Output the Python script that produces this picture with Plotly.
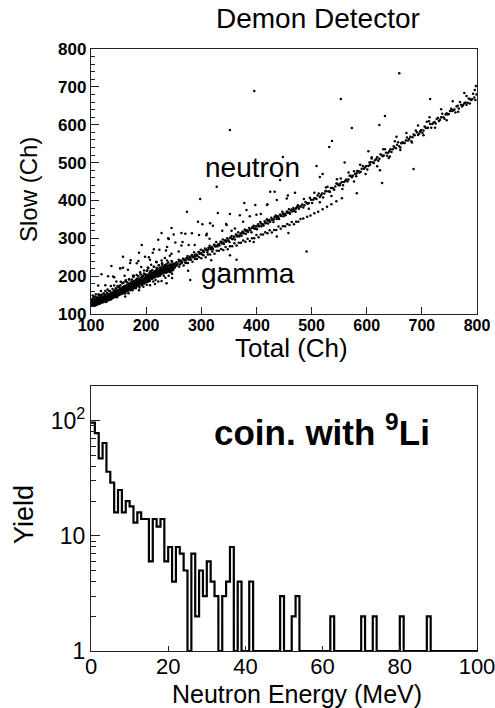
import plotly.graph_objects as go
import numpy as np

# ---------------- top panel data: (Total, Slow) in channels ----------------
core_pts = [
    (100,122),(101,131),(102,127),(102,138),(103,124),(103,134),(104,129),(104,142),(105,126),(105,133),
    (106,137),(106,121),(107,130),(107,146),(108,127),(108,135),(109,140),(109,124),(110,132),(110,137),
    (111,128),(111,144),(112,134),(112,125),(113,139),(113,131),(114,136),(114,149),(115,129),(115,142),
    (116,134),(116,127),(117,139),(117,145),(118,132),(118,137),(119,130),(119,151),(120,141),(120,135),
    (121,138),(121,146),(122,131),(122,143),(123,140),(123,153),(124,136),(124,147),(125,142),(125,133),
    (126,139),(126,150),(127,144),(127,137),(128,148),(128,141),(129,134),(129,156),(130,145),(130,139),
    (131,150),(131,142),(132,137),(132,147),(133,153),(133,144),(134,140),(134,161),(135,149),(135,143),
    (136,138),(136,152),(137,146),(137,157),(138,141),(138,150),(139,155),(139,145),(140,148),(140,142),
    (141,152),(141,160),(142,146),(142,156),(143,163),(143,150),(144,145),(144,158),(145,154),(145,168),
    (146,149),(146,161),(147,156),(147,151),(148,164),(148,147),(149,159),(149,172),(150,153),(150,162),
    (151,157),(151,150),(152,166),(152,160),(153,155),(153,176),(154,162),(154,152),(155,158),(155,168),
    (156,164),(156,156),(157,160),(157,181),(158,154),(158,167),(159,163),(159,171),(160,158),(160,165),
    (161,168),(161,161),(162,174),(162,157),(163,165),(163,186),(164,170),(164,162),(165,167),(165,177),
    (166,160),(166,172),(167,169),(167,164),(168,179),(168,173),(169,166),(169,192),(170,175),(170,168),
    (171,163),(171,181),(172,171),(172,177),(173,167),(173,186),(174,174),(174,179),(175,170),(175,165),
    (176,182),(176,176),(177,172),(177,198),(178,178),(178,169),(179,185),(179,175),(180,172),(180,181),
    (181,177),(181,190),(182,184),(182,171),(183,179),(183,203),(184,187),(184,175),(185,182),(185,193),
    (186,178),(186,188),(187,185),(187,174),(188,191),(188,181),(189,186),(189,210),(190,180),(190,195),
    (191,188),(191,183),(192,198),(192,177),(193,190),(193,185),(194,182),(194,201),(195,193),(195,187),
    (196,180),(196,207),(197,191),(197,196),(198,186),(198,203),(199,194),(199,183),(200,199),(200,189),
    (201,192),(201,214),(202,198),(202,186),(203,204),(203,194),(204,190),(204,221),(205,201),(205,197),
    (206,193),(206,208),(207,203),(207,188),(208,199),(208,212),(209,195),(209,230),(210,206),(210,201),
    (211,193),(211,216),(212,204),(212,198),(213,210),(213,196),(214,207),(214,225),(215,201),(215,212),
    (216,197),(216,206),(217,214),(217,203),(218,200),(218,238),(219,209),(219,217),(220,205),(220,211),
    (221,199),(221,220),(222,208),(222,214),(223,204),(223,229),(224,212),(224,201),(225,217),(225,208),
    (226,211),(226,222),(227,205),(227,216),(228,213),(228,241),(229,219),(229,209),(230,215),(230,226),
    (231,207),(231,221),(232,217),(232,212),(233,224),(233,210),(234,219),(234,248),(235,214),(235,228),
    (236,221),(236,209),(237,217),(237,232),(238,224),(238,214),(239,211),(239,227),(240,219),(240,236),
    (241,222),(241,215),(242,229),(242,212),(243,219),(243,254),(244,225),(244,216),(245,231),(245,221),
    (246,214),(246,227),(247,223),(247,238),(248,218),(248,230),(249,225),(249,216),(250,233),(250,221),
]

core_spread = [
    (100,136),(102,122),(103,149),(105,132),(106,145),(108,123),(109,152),(111,141),(112,133),(114,152),
    (115,130),(117,149),(118,161),(120,143),(121,135),(123,155),(124,141),(126,161),(127,132),(129,155),
    (130,165),(132,143),(133,161),(135,139),(136,174),(138,152),(139,166),(141,144),(142,175),(144,151),
    (145,160),(147,144),(148,174),(150,158),(151,171),(153,153),(154,185),(156,170),(157,157),(159,183),
    (160,173),(162,154),(163,189),(165,167),(166,184),(168,155),(169,191),(171,178),(172,167),(174,191),
    (175,163),(177,187),(178,201),(180,179),(181,168),(183,193),(184,176),(186,200),(187,163),(189,192),
    (190,205),(192,176),(193,199),(195,172),(196,215),(198,188),(199,205),(201,177),(202,215),(204,185),
    (205,196),(207,176),(208,213),(210,193),(211,208),(213,186),(214,225),(216,207),(217,190),(219,222),
    (220,209),(222,186),(223,229),(225,201),(226,222),(228,187),(229,231),(231,214),(232,201),(234,229),
    (235,196),(237,224),(238,241),(240,215),(241,201),(243,231),(244,210),(246,240),(247,195),(249,230),
]

speckle = [
    (113,175),(119,205),(126,176),(131,200),(137,227),(142,197),(146,186),(153,220),(158,251),(161,201),
    (167,217),(172,242),(176,201),(183,234),(187,262),(191,224),(198,251),(203,223),(207,243),(214,271),
    (219,237),(224,270),(229,234),(236,268),(241,298),(246,259),(253,289),(259,265),(264,281),(271,312),
    (277,282),(283,313),(288,282),(296,309),(302,337),(309,308),(315,299),(321,333),(330,367),(338,320),
    (345,338),(352,364),(361,326),(370,361),(378,393),(388,358),(398,388),(408,364),(420,390),(433,423),
    (135,141),(162,146),(188,170),(216,179),(247,206),(276,214),(318,242),(352,255),(395,290),(437,305),
]

neutron_band = [
    (251,231),(253,227),(255,237),(257,233),(259,243),(261,231),(263,241),(265,237),(267,246),(269,242),
    (271,236),(273,248),(275,253),(277,244),(279,250),(281,244),(283,256),(285,251),(287,263),(289,251),
    (291,257),(293,254),(295,264),(297,259),(299,270),(301,258),(303,268),(305,264),(307,273),(309,269),
    (311,263),(313,275),(315,280),(317,271),(319,277),(321,271),(323,283),(325,278),(327,290),(329,278),
    (331,284),(333,281),(335,291),(337,286),(339,297),(341,285),(343,294),(345,291),(347,300),(349,295),
    (351,290),(353,302),(355,306),(357,298),(359,304),(361,297),(363,310),(365,305),(367,316),(369,305),
    (371,311),(373,307),(375,318),(377,313),(379,323),(381,312),(383,321),(385,317),(387,327),(389,322),
    (391,316),(393,329),(395,333),(397,325),(399,331),(401,324),(403,337),(405,332),(407,343),(409,332),
    (411,338),(413,334),(415,345),(417,340),(419,350),(421,339),(423,348),(425,344),(427,354),(429,349),
    (431,343),(433,356),(435,360),(437,351),(439,358),(441,351),(443,363),(445,359),(447,370),(449,358),
    (451,365),(453,361),(455,371),(457,367),(459,377),(461,365),(463,375),(465,371),(467,380),(469,376),
    (471,370),(473,382),(475,387),(477,378),(479,384),
    (252,233),(256,232),(260,239),(264,238),(268,245),(272,242),(276,247),(280,252),(284,250),(288,256),
    (292,256),(296,263),(300,261),(304,266),(308,271),(312,269),(316,275),(320,275),(324,282),(328,280),
    (332,285),(336,290),(340,289),(344,294),(348,294),(352,301),(356,298),(360,304),(364,309),(368,307),
    (372,313),(376,313),(380,320),(384,318),(388,323),(392,328),(396,326),(400,332),(404,332),(408,339),
    (412,336),(416,341),(420,346),(424,345),(428,350),(432,350),(436,357),(440,354),(444,360),(448,365),
    (452,364),(456,369),(460,369),(464,376),(468,373),(472,379),(476,384),
]

gamma_band = [
    (252,223),(256,228),(260,225),(264,234),(268,228),(272,235),(276,235),(280,243),(284,238),(288,245),
    (292,245),(296,250),(300,247),(304,255),(308,250),(312,257),(316,257),(320,265),(324,259),(328,267),
    (332,267),(336,272),(340,269),(344,277),(348,271),(352,279),(356,279),(360,287),(364,281),(368,288),
    (372,288),(376,294),(380,291),(384,299),(388,293),(392,300),(396,300),(400,309),(404,303),(408,310),
    (412,310),(416,316),(420,313),(424,321),(428,315),(432,322),(436,322),(440,331),(444,325),(448,332),
    (452,332),(456,338),(460,335),(464,343),(468,337),(472,344),(476,344),(480,351),
    (485,352),(492,357),(498,360),(505,366),(512,370),(520,377),(528,383),(536,390),(545,398),(555,406),
]

tail_band = [
    (481,384),(485,381),(489,396),(493,391),(497,407),(501,393),(505,406),(509,404),(513,418),(517,414),
    (521,408),(525,425),(529,436),(533,423),(537,433),(541,428),(545,445),(549,440),(553,458),(557,440),
    (561,452),(565,450),(569,465),(573,461),(577,477),(581,464),(585,478),(589,476),(593,491),(597,487),
    (601,482),(605,500),(609,511),(613,499),(617,509),(621,505),(625,522),(629,517),(633,535),(637,518),
    (641,530),(645,528),(649,543),(653,538),(657,554),(661,540),(665,554),(669,552),(673,566),(677,562),
    (681,556),(685,574),(689,585),(693,573),(697,583),(701,578),(705,595),(709,591),(713,609),(717,592),
    (721,605),(725,603),(729,618),(733,613),(737,629),(741,616),(745,630),(749,628),(753,642),(757,638),
    (761,632),(765,650),(769,660),(773,648),(777,657),(781,653),(785,669),(789,665),(793,682),(797,665),
    (483,389),(487,387),(491,393),(495,393),(499,402),(503,402),(507,406),(511,413),(515,409),(519,418),
    (523,418),(527,424),(531,424),(535,433),(539,432),(543,437),(547,444),(551,440),(555,449),(559,449),
    (563,455),(567,455),(571,465),(575,465),(579,470),(583,478),(587,474),(591,484),(595,484),(599,491),
    (603,491),(607,501),(611,501),(615,506),(619,514),(623,510),(627,520),(631,519),(635,526),(639,526),
    (643,535),(647,535),(651,539),(655,547),(659,543),(663,552),(667,552),(671,558),(675,558),(679,568),
    (683,567),(687,572),(691,580),(695,576),(699,586),(703,585),(707,592),(711,592),(715,602),(719,602),
    (723,607),(727,615),(731,610),(735,620),(739,620),(743,627),(747,627),(751,636),(755,636),(759,640),
    (763,648),(767,643),(771,653),(775,652),(779,659),(783,658),(787,668),(791,667),(795,672),(799,680),
    (486,404),(495,378),(505,420),(515,395),(526,434),(536,412),(546,456),(556,430),(567,474),(577,450),
    (588,494),(598,470),(609,514),(619,490),(630,535),(640,512),(651,556),(661,533),(672,578),(682,553),
    (693,598),(703,572),(714,620),(724,592),(735,641),(745,612),(756,662),(766,634),(777,684),(787,656),
    (798,702),
]

outliers = [
    (396,689),(659,736),(553,668),(633,623),(715,668),(573,591),(623,599),(537,557),(532,541),(603,530),
    (685,483),(628,446),(509,491),(515,462),(458,314),(491,265),(757,639),(352,586),(448,515),(328,436),
    (298,404),(274,370),(240,300),(250,310),(222,296),(192,282),(158,222),(171,235),(238,277),(264,314),
    (294,344),(316,340),(346,335),(376,344),(400,362),(419,388),(437,401),(455,405),(457,413),(443,454),
    (425,423),(382,375),(237,181),(280,190),(334,221),(364,243),(228,314),(246,327),(153,221),(140,199),
    (709,608),(781,676),(796,692),(697,582),(663,551),(654,568),(642,516),(606,494),(582,472),(552,445),
    (533,423),(582,419),(624,480),(212,262),(205,250),(186,240),(266,290),(310,312),(355,320),(470,420),
    (520,470),(560,500),
]

# ---------------- bottom panel data: neutron energy histogram ----------------
energy_edges = list(range(0, 101))          # 1 MeV bins, 0..100 MeV
yield_counts = [
    96, 78, 47, 64, 36, 29, 16, 25, 16, 20,
    18, 13, 16, 14, 14, 6, 14, 12, 14, 6,
    8, 4, 8, 7, 5, 0, 7, 2, 5, 3,
    6, 4, 3, 0, 3, 4, 8, 0, 4, 0,
    0, 4, 0, 0, 0, 0, 0, 0, 0, 3,
    0, 0, 2, 3, 0, 0, 0, 0, 0, 0,
    0, 0, 2, 0, 0, 0, 0, 0, 0, 0,
    2, 0, 0, 2, 0, 0, 0, 0, 0, 0,
    2, 0, 0, 0, 0, 0, 0, 2, 0, 0,
    0, 0, 0, 0, 0, 0, 0, 0, 0, 0,
]

all_pts = core_pts + core_spread + speckle + neutron_band + gamma_band + tail_band + outliers
pts_x = [p[0] for p in all_pts]
pts_y = [p[1] for p in all_pts]

FONT = "Liberation Sans, Arial, sans-serif"
W, H = 495, 708

fig = go.Figure()
fig.add_trace(go.Scatter(
    x=pts_x, y=pts_y, mode="markers",
    marker=dict(color="black", size=2.5, line=dict(width=0)),
    xaxis="x", yaxis="y", showlegend=False, hoverinfo="skip",
))

# histogram outline (ROOT draws empty bins on the log-axis floor)
hist_y = np.maximum(np.array(yield_counts + [yield_counts[-1]], dtype=float), 1.0)
fig.add_trace(go.Scatter(
    x=energy_edges, y=hist_y, mode="lines", line_shape="hv",
    line=dict(color="black", width=2.2),
    xaxis="x2", yaxis="y2", showlegend=False, hoverinfo="skip",
))

dom_x = [91 / W, 477 / W]
frame = dict(showline=True, linecolor="#222", linewidth=1.3, mirror=True, automargin=False,
             showgrid=False, zeroline=False, ticks="inside", tickcolor="#222",
             ticklabeloverflow="allow")

fig.update_layout(
    template="none",
    width=W, height=H, margin=dict(l=0, r=0, t=0, b=0, autoexpand=False),
    paper_bgcolor="white", plot_bgcolor="white",
    font=dict(family=FONT, color="black"),
    xaxis=dict(domain=dom_x, anchor="y", range=[100, 800],
               tickvals=[100, 200, 300, 400, 500, 600, 700, 800],
               ticklen=7, tickwidth=1, ticklabelstandoff=-3,
               tickfont=dict(size=16, family=FONT, weight="bold"), **frame),
    yaxis=dict(domain=[(H - 314) / H, (H - 49) / H], anchor="x", range=[100, 800],
               tickvals=[100, 200, 300, 400, 500, 600, 700, 800],
               ticklen=8, tickwidth=1,
               minor=dict(ticks="inside", ticklen=4, dtick=20, tickcolor="#222"),
               tickfont=dict(size=17, family=FONT, weight="bold"), **frame),
    xaxis2=dict(domain=dom_x, anchor="y2", range=[0, 100],
                tickvals=[0, 20, 40, 60, 80, 100], ticklen=5, tickwidth=1,
                ticklabelstandoff=-5,
                tickfont=dict(size=22, family=FONT), **frame),
    yaxis2=dict(domain=[(H - 651) / H, (H - 386) / H], anchor="x2", type="log",
                range=[0, np.log10(200)],
                tickvals=[1, 10, 100], ticktext=["1", "10", "10<sup>2</sup>"],
                ticklen=9, tickwidth=1,
                minor=dict(ticks="inside", ticklen=5, tickcolor="#222",
                           tickvals=[2, 3, 4, 5, 6, 7, 8, 9, 20, 30, 40, 50, 60, 70, 80, 90, 200]),
                tickfont=dict(size=23, family=FONT), **frame),
)

def txt(s, x, y, size, angle=0, bold=False, xref="paper", yref="paper"):
    fig.add_annotation(text=s, x=x, y=y, xref=xref, yref=yref, showarrow=False,
                       textangle=angle, xanchor="center", yanchor="middle",
                       font=dict(size=size, family=FONT, color="black",
                                 weight="bold" if bold else "normal"))

txt("Demon Detector", 318 / W, (H - 18) / H, 28)
txt("Slow (Ch)", 28 / W, (H - 190) / H, 24, angle=-90)
txt("Total (Ch)", 291 / W, (H - 348) / H, 26)
txt("neutron", 392, 486, 28, xref="x", yref="y")
txt("gamma", 385, 208, 28, xref="x", yref="y")
txt("coin. with <sup>9</sup>Li", 322 / W, (H - 430) / H, 35, bold=True)
txt("Yield", 24 / W, (H - 515) / H, 27, angle=-90)
txt("Neutron Energy (MeV)", 297 / W, (H - 694) / H, 25)

fig.write_html("out.html")
